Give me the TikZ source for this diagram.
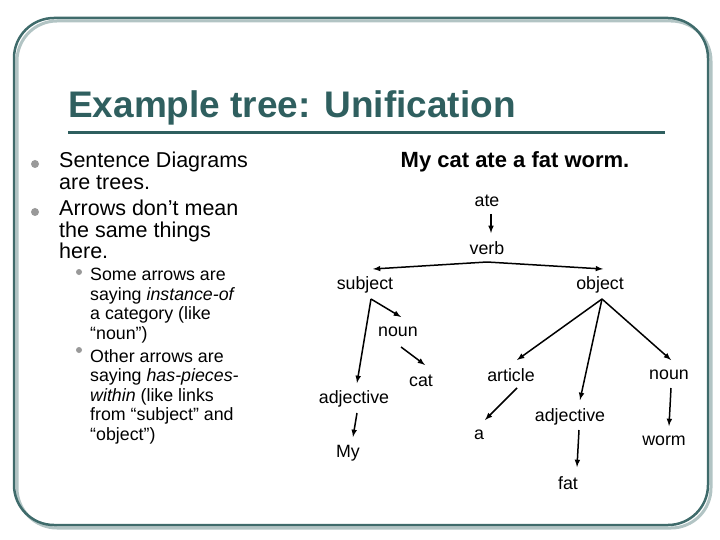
\documentclass[tikz,border=0pt]{standalone}
\usepackage{fontspec}
\setmainfont{Liberation Sans}
\begin{document}
\begin{tikzpicture}[x=1pt,y=-1pt,
  lab/.style={font=\fontsize{17.8}{19}\selectfont,inner sep=0pt},
  arr/.style={->,>=latex,line width=1.5pt},
  body/.style={anchor=north west,align=left,inner sep=0pt,font=\fontsize{21.5}{21.5}\selectfont},
  sub/.style={anchor=north west,align=left,inner sep=0pt,font=\fontsize{17.8}{19.5}\selectfont},
  dot/.style={circle,fill=gray!80,inner sep=0pt,minimum size=#1}]
\definecolor{frame}{HTML}{3F6B6B}
\definecolor{ttl}{HTML}{2F5F5F}
\useasboundingbox (0,0) rectangle (720,540);
\draw[frame!40,line width=3pt,rounded corners=40pt] (17,21) rectangle (711,528);
\draw[frame,line width=2.5pt,rounded corners=40pt] (14,18) rectangle (708,525);
\node[anchor=west,inner sep=0pt,text=ttl,font=\fontsize{37}{38}\selectfont\bfseries] (title) at (68,108) {Example tree: Unification};
\draw[ttl,line width=3pt] (68,133) -- (665,133);
% bullets
\node[dot=8pt] (b1) at (35,164) {};
\node[dot=8pt] (b2) at (35,212) {};
\node[body] (t1) at (59,152) {Sentence Diagrams\\are trees.};
\node[body] (t2) at (59,200) {Arrows don’t mean\\the same things\\here.};
\node[dot=6pt] (b3) at (79,272) {};
\node[dot=6pt] (b4) at (79,350) {};
\node[sub] (s1) at (90,268) {Some arrows are\\saying \textit{instance-of}\\a category (like\\“noun”)};
\node[sub] (s2) at (90,349) {Other arrows are\\saying \textit{has-pieces-}\\\textit{within} (like links\\from “subject” and\\“object”)};
% tree
\node[inner sep=0pt,font=\fontsize{22}{24}\selectfont\bfseries] (sent) at (515,162) {My cat ate a fat worm.};
\node[lab] (ate) at (487,201) {ate};
\node[lab] (verb) at (487,248) {verb};
\node[lab] (subj) at (365,285) {subject};
\node[lab] (obj) at (600,285) {object};
\node[lab] (noun1) at (398,332) {noun};
\node[lab] (cat) at (421,381) {cat};
\node[lab] (adj1) at (354,399) {adjective};
\node[lab] (my) at (348,453) {My};
\node[lab] (art) at (511,375) {article};
\node[lab] (a) at (479,435) {a};
\node[lab] (adj2) at (570,417) {adjective};
\node[lab] (fat) at (568,483) {fat};
\node[lab] (noun2) at (669,375) {noun};
\node[lab] (worm) at (664,441) {worm};
\coordinate (v1) at (491,214); \coordinate (v2) at (491,233);
\draw[arr] (v1) -- (v2);
\coordinate (apex) at (487,262);
\coordinate (sl) at (373,269); \coordinate (or) at (603,269);
\draw[arr] (apex) -- (sl);
\draw[arr] (apex) -- (or);
\coordinate (sb) at (371,299); \coordinate (ob) at (602,299);
\draw[arr] (sb) -- (401,317) coordinate (n1t);
\draw[arr] (sb) -- (357,383) coordinate (a1t);
\draw[arr] (401,347) coordinate (n1b) -- (425,365);
\draw[arr] (357,413) coordinate (a1b) -- (353,437);
\draw[arr] (ob) -- (517,360);
\draw[arr] (ob) -- (580,400);
\draw[arr] (ob) -- (671,360);
\draw[arr] (517,388) coordinate (arb) -- (485,420);
\draw[arr] (671,388) coordinate (n2b) -- (669,426);
\draw[arr] (579,430) coordinate (a2b) -- (577,467);
\end{tikzpicture}
\end{document}
